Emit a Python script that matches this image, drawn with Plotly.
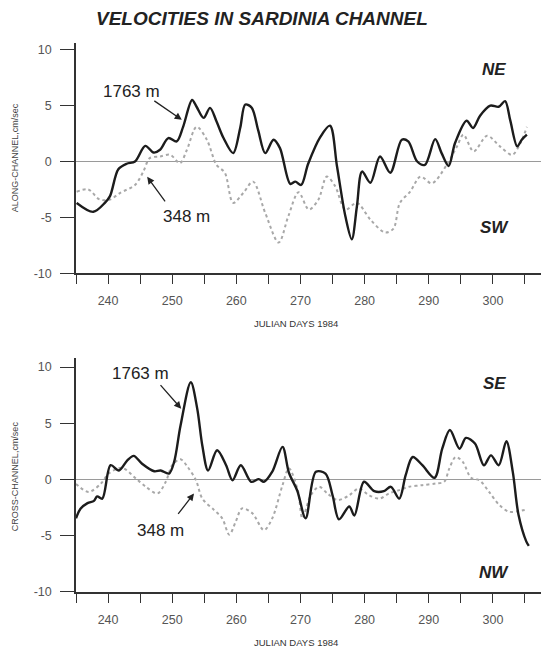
import plotly.graph_objects as go
from plotly.subplots import make_subplots

# ---------------- DATA ----------------
along_1763_days = [235.1, 237.7, 239.5, 240.3, 241.6, 242.9, 244.2, 245.8, 247.1, 248.1, 249.4, 250.7,
                   251.7, 253.1, 253.8, 254.9, 255.9, 256.9, 258.0, 259.5, 260.6, 261.4, 262.4, 263.4,
                   264.5, 265.8, 266.8, 268.4, 269.2, 270.1, 271.2, 273.1, 274.6, 275.7, 277.0, 278.0,
                   278.8, 279.6, 280.9, 282.4, 284.0, 285.8, 286.8, 288.2, 289.4, 291.0, 292.0, 293.1,
                   294.1, 295.9, 296.9, 298.0, 299.6, 300.9, 301.9, 302.7, 303.8, 304.5, 305.3]
along_1763 = [-3.7, -4.5, -3.7, -3.1, -0.7, -0.2, 0.0, 1.4, 0.8, 1.05, 2.1, 1.8,
              3.1, 5.5, 4.9, 3.9, 4.8, 3.6, 2.1, 0.75, 3.0, 5.1, 4.8, 2.8,
              0.75, 1.95, 1.2, -2.0, -1.8, -2.1, -0.2, 2.2, 3.2, -0.45, -4.9, -6.95,
              -4.0, -0.9, -1.9, 0.45, -1.0, 1.95, 1.8, 0.0, -0.3, 2.0, 0.75, -0.4,
              1.65, 3.65, 3.0, 4.1, 5.0, 4.9, 5.4, 3.7, 1.35, 1.95, 2.4]

along_348_days = [235.1, 236.9, 238.7, 240.3, 241.9, 244.2, 245.5, 246.5, 248.1, 249.7, 251.2, 252.3,
                  253.8, 255.4, 256.9, 258.2, 259.5, 261.1, 262.6, 264.5, 266.6, 268.1, 269.7, 271.3,
                  272.8, 274.1, 275.4, 277.0, 278.8, 280.9, 283.2, 284.5, 285.5, 287.1, 288.7, 290.5,
                  292.8, 294.4, 295.4, 297.0, 299.1, 301.1, 303.0, 304.3, 305.3]
along_348 = [-2.7, -2.5, -3.4, -3.4, -2.8, -2.1, -0.9, 0.3, 0.45, 0.6, -0.15, 1.05,
             3.1, 1.95, -0.3, -1.0, -3.7, -2.8, -1.8, -4.6, -7.25, -4.9, -2.75, -4.3,
             -3.4, -1.35, -2.2, -4.3, -3.7, -5.2, -6.35, -6.0, -3.7, -2.7, -1.35, -1.95,
             -0.3, 1.35, 2.4, 0.9, 2.3, 1.35, 0.6, 1.65, 3.1]

cross_1763_days = [235.0, 235.7, 236.8, 237.8, 238.3, 239.1, 240.4, 241.7, 243.0, 244.0, 245.3, 247.2,
                   248.2, 249.5, 250.3, 251.3, 252.9, 253.9, 254.7, 255.6, 257.0, 258.4, 259.4, 260.7,
                   262.3, 263.5, 264.3, 265.6, 267.2, 268.2, 269.5, 270.8, 272.4, 273.9, 275.0, 276.0,
                   277.6, 278.4, 279.9, 281.5, 283.0, 284.1, 285.4, 286.4, 287.5, 289.0, 290.9, 292.1,
                   293.3, 294.8, 295.8, 297.2, 298.6, 299.7, 300.9, 302.1, 303.1, 304.0, 305.2, 305.6]
cross_1763 = [-3.45, -2.6, -2.1, -1.9, -1.5, -1.7, 1.27, 0.8, 1.7, 2.1, 1.4, 0.73,
              0.8, 0.53, 1.57, 4.8, 8.65, 6.3, 3.0, 0.8, 2.6, 1.27, -0.06, 1.27,
              -0.2, 0.03, -0.2, 0.7, 2.9, 0.6, -1.0, -3.45, 0.68, 0.53, -1.4, -3.54,
              -2.4, -3.2, -0.2, -1.04, -1.04, -0.65, -1.7, 0.38, 2.0, 1.27, 0.15, 2.74,
              4.4, 2.74, 3.7, 3.2, 1.27, 2.15, 1.27, 3.4, 0.68, -3.16, -5.5, -5.9]

cross_348_days = [235.0, 237.0, 238.9, 240.1, 242.2, 244.3, 245.9, 247.7, 249.0, 250.0, 251.3, 252.4,
                  253.7, 254.7, 256.5, 257.8, 258.9, 259.9, 260.9, 262.5, 264.3, 265.6, 267.2, 268.2,
                  269.6, 270.3, 271.6, 272.9, 274.2, 275.8, 277.6, 279.1, 280.7, 282.3, 283.8, 285.4,
                  286.9, 289.0, 291.1, 292.4, 293.2, 294.2, 295.3, 296.6, 297.9, 299.4, 301.0, 302.5,
                  304.1, 305.4]
cross_348 = [-0.4, -1.1, -0.35, 0.53, 1.03, 0.1, -0.65, -1.24, -0.2, 1.27, 1.8, 1.12,
             -0.06, -1.7, -2.7, -3.45, -4.9, -3.75, -2.57, -3.0, -4.5, -3.45, -0.5, 1.0,
             -1.0, -3.45, -1.4, -0.65, -1.24, -1.83, -1.4, -0.8, -1.4, -1.7, -1.24, -0.94,
             -0.65, -0.5, -0.35, -0.2, 0.97, 2.0, 1.57, 0.15, -0.06, -1.1, -2.27, -2.86,
             -2.8, -2.65]

x_tickvals = [235, 240, 245, 250, 255, 260, 265, 270, 275, 280, 285, 290, 295, 300, 305]
x_ticktext = ["", "240", "", "250", "", "260", "", "270", "", "280", "", "290", "", "300", ""]
y_tickvals = [-10, -5, 0, 5, 10]
y_ticktext = ["-10", "-5", "0", "5", "10"]

title_text = "VELOCITIES IN SARDINIA CHANNEL"
xlabel = "JULIAN DAYS 1984"
ylabel_top = "ALONG-CHANNEL,cm/sec"
ylabel_bot = "CROSS-CHANNEL,cm/sec"

# ---------------- FIGURE ----------------
FONT = "Liberation Sans, Arial, Helvetica, sans-serif"
DARK = "#1c1c1c"
GRAY = "#a8a8a8"

fig = make_subplots(rows=2, cols=1)
top_dom = [0.5805, 1.0]
bot_dom = [0.0, 0.4262]

solid = dict(color=DARK, width=2.4, shape="spline", smoothing=0.9)
dotted = dict(color=GRAY, width=2.0, dash="dot", shape="spline", smoothing=0.9)

fig.add_trace(go.Scatter(x=along_348_days, y=along_348, mode="lines", line=dotted, name="348 m"), row=1, col=1)
fig.add_trace(go.Scatter(x=along_1763_days, y=along_1763, mode="lines", line=solid, name="1763 m"), row=1, col=1)
fig.add_trace(go.Scatter(x=cross_348_days, y=cross_348, mode="lines", line=dotted, name="348 m"), row=2, col=1)
fig.add_trace(go.Scatter(x=cross_1763_days, y=cross_1763, mode="lines", line=solid, name="1763 m"), row=2, col=1)

xaxis_common = dict(
    range=[235, 307.5], tickmode="array", tickvals=x_tickvals, ticktext=x_ticktext,
    ticks="outside", ticklen=9, tickwidth=1, tickcolor="#333",
    showline=True, linecolor="#333", linewidth=1.5, showgrid=False, zeroline=False,
    tickfont=dict(family=FONT, size=12.5, color="#555"), ticklabelstandoff=6,
)
yaxis_common = dict(
    tickmode="array", tickvals=y_tickvals, ticktext=y_ticktext,
    ticks="outside", ticklen=14, tickwidth=1, tickcolor="#333",
    showline=True, linecolor="#333", linewidth=1.5, showgrid=False,
    zeroline=True, zerolinecolor="#9a9a9a", zerolinewidth=1,
    tickfont=dict(family=FONT, size=12.5, color="#555"), ticklabelstandoff=6,
)

fig.update_layout(
    width=552, height=648,
    margin=dict(l=76, r=11, t=43, b=56),
    paper_bgcolor="white", plot_bgcolor="white",
    showlegend=False,
    xaxis=dict(domain=[0, 1], anchor="y", **xaxis_common),
    yaxis=dict(domain=top_dom, anchor="x", range=[-10, 10.6], **yaxis_common),
    xaxis2=dict(domain=[0, 1], anchor="y2", **xaxis_common),
    yaxis2=dict(domain=bot_dom, anchor="x2", range=[-10, 10.8], **yaxis_common),
)

ann = []
# Title
ann.append(dict(text="<b><i>" + title_text + "</i></b>", xref="paper", yref="paper",
                x=0, y=1, xshift=186, yshift=25, xanchor="center", yanchor="middle",
                showarrow=False, font=dict(family=FONT, size=19, color="#222")))
# x-axis titles
ann.append(dict(text=xlabel, xref="paper", yref="paper", x=0, y=top_dom[0], xshift=220, yshift=-50,
                xanchor="center", yanchor="middle", showarrow=False,
                font=dict(family=FONT, size=9.5, color="#333")))
ann.append(dict(text=xlabel, xref="paper", yref="paper", x=0, y=0, xshift=220, yshift=-50,
                xanchor="center", yanchor="middle", showarrow=False,
                font=dict(family=FONT, size=9.5, color="#333")))
# y-axis titles
ann.append(dict(text=ylabel_top, xref="paper", yref="y", x=0, y=0.3, xshift=-61, textangle=-90,
                xanchor="center", yanchor="middle", showarrow=False,
                font=dict(family=FONT, size=9, color="#444")))
ann.append(dict(text=ylabel_bot, xref="paper", yref="y2", x=0, y=0.3, xshift=-61, textangle=-90,
                xanchor="center", yanchor="middle", showarrow=False,
                font=dict(family=FONT, size=9, color="#444")))
# direction labels
for txt, yr, yv in [("NE", "y", 8.26), ("SW", "y", -5.93), ("SE", "y2", 8.53), ("NW", "y2", -8.27)]:
    ann.append(dict(text="<b><i>" + txt + "</i></b>", xref="x" if yr == "y" else "x2", yref=yr,
                    x=300.2, y=yv, showarrow=False, xanchor="center", yanchor="middle",
                    font=dict(family=FONT, size=17, color="#222")))
# depth labels
lab_font = dict(family=FONT, size=17, color="#222")
for txt, xr, yr, xv, yv in [("1763 m", "x", "y", 243.6, 6.23), ("348 m", "x", "y", 252.3, -4.95),
                            ("1763 m", "x2", "y2", 245.1, 9.42), ("348 m", "x2", "y2", 248.1, -4.5)]:
    ann.append(dict(text=txt, xref=xr, yref=yr, x=xv, y=yv, showarrow=False,
                    xanchor="center", yanchor="middle", font=lab_font))
# arrows
for xr, yr, xv, yv, axp, ayp in [("x", "y", 251.5, 3.73, -29, -20), ("x", "y", 246.1, -1.37, 19, 26),
                                 ("x2", "y2", 251.4, 6.3, -22, -25), ("x2", "y2", 253.4, -1.24, -17, 22)]:
    ann.append(dict(text="", xref=xr, yref=yr, x=xv, y=yv, ax=axp, ay=ayp, showarrow=True,
                    arrowhead=2, arrowsize=1.1, arrowwidth=1.3, arrowcolor="#222"))

fig.update_layout(annotations=ann)

fig.write_html("out.html")
